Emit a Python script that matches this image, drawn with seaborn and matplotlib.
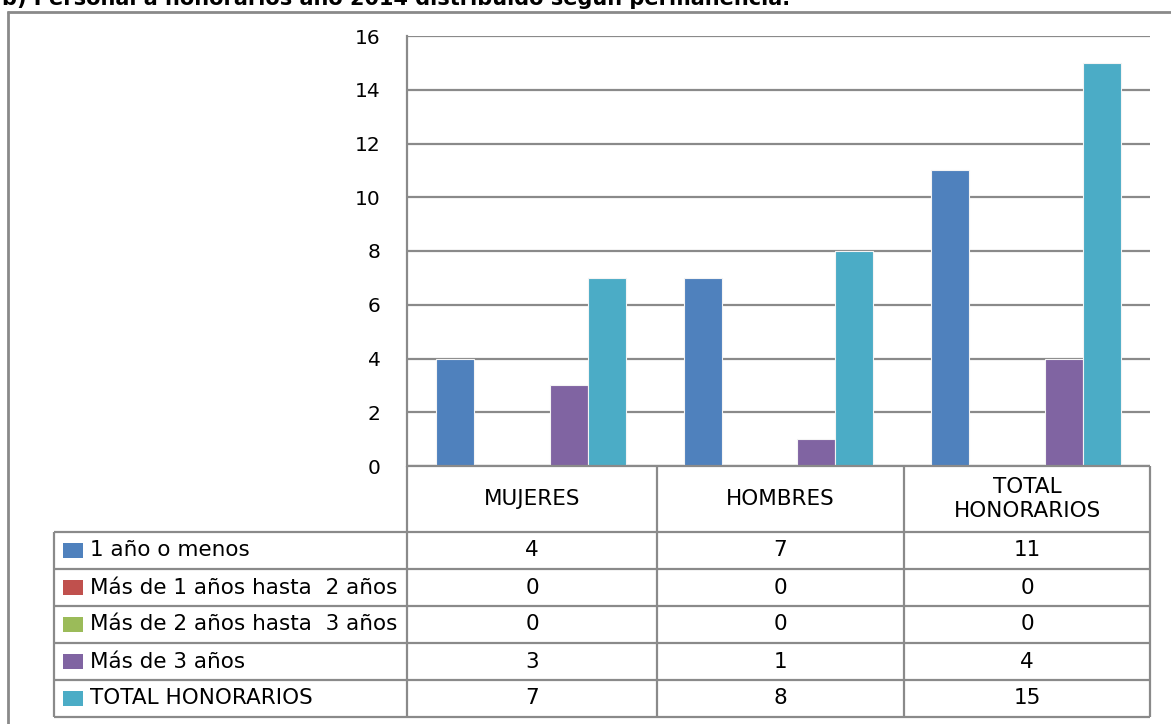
import pandas as pd
import numpy as np
import matplotlib.pyplot as plt
import seaborn as sns
from matplotlib.lines import Line2D
from matplotlib.patches import Rectangle

# data
categories = ["MUJERES", "HOMBRES", "TOTAL\nHONORARIOS"]
series = ["1 año o menos", "Más de 1 años hasta  2 años", "Más de 2 años hasta  3 años",
          "Más de 3 años", "TOTAL HONORARIOS"]
uno_o_menos = [4, 7, 11]
de_1_a_2 = [0, 0, 0]
de_2_a_3 = [0, 0, 0]
mas_de_3 = [3, 1, 4]
total_honorarios = [7, 8, 15]
y_ticks = [0, 2, 4, 6, 8, 10, 12, 14, 16]
title = "b) Personal a honorarios año 2014 distribuido según permanencia."

colors = ["#4F81BD", "#C0504D", "#9BBB59", "#8064A2", "#4BACC6"]
grey = "#8a8a8a"

values = [uno_o_menos, de_1_a_2, de_2_a_3, mas_de_3, total_honorarios]
rows = []
for s, vals in zip(series, values):
    for c, v in zip(categories, vals):
        rows.append({"categoria": c, "serie": s, "valor": v})
df = pd.DataFrame(rows)

sns.set_style("white")
plt.rcParams["font.family"] = ["DejaVu Sans"]
plt.rcParams["text.color"] = "black"
plt.rcParams["ytick.color"] = "black"
fs = 15.5

W, H = 1171, 724
fig = plt.figure(figsize=(W / 100, H / 100), dpi=100)


def fx(px):
    return px / W


def fy(py):
    return 1 - py / H


def hline(y, x0, x1, lw=1.6):
    fig.add_artist(Line2D([fx(x0), fx(x1)], [fy(y), fy(y)], color=grey, lw=lw,
                          transform=fig.transFigure, solid_capstyle="butt"))


def vline(x, y0, y1, lw=1.6):
    fig.add_artist(Line2D([fx(x), fx(x)], [fy(y0), fy(y1)], color=grey, lw=lw,
                          transform=fig.transFigure, solid_capstyle="butt"))


# plot area
ax_l, ax_r, ax_t, ax_b = 407, 1150, 36, 466
ax = fig.add_axes([fx(ax_l), fy(ax_b), fx(ax_r - ax_l), (ax_b - ax_t) / H])
sns.barplot(data=df, x="categoria", y="valor", hue="serie", order=categories,
            hue_order=series, palette=colors, saturation=1, width=0.766, ax=ax,
            edgecolor="#f4f4f4", linewidth=0.8, legend=False)
ax.set_xlim(-0.5, 2.5)
ax.set_ylim(0, 16)
ax.set_yticks(y_ticks)
ax.set_yticklabels([str(t) for t in y_ticks], fontsize=14.5)
ax.set_xticks([])
ax.set_xlabel("")
ax.set_ylabel("")
ax.yaxis.grid(True, color=grey, lw=1.6)
ax.set_axisbelow(True)
ax.tick_params(axis="y", length=0, pad=19)
for side in ["top", "right", "bottom"]:
    ax.spines[side].set_visible(False)
ax.spines["left"].set_color(grey)
ax.spines["left"].set_linewidth(1.6)

# outer chart border (runs off the picture to the right and bottom)
hline(12, 7, W + 5, lw=2)
vline(7.5, 11, H + 5, lw=2)

# title, mostly cut off at the top
fig.text(fx(2), fy(5), title, fontsize=15, fontweight="bold", ha="left", va="baseline")

# data table
col_x = [407, 657, 904, 1150]
row_y = [466, 532, 569, 606, 643, 680, 717]
leg_x = 54

hline(row_y[0], col_x[0], col_x[-1])
for y in row_y[1:]:
    hline(y, leg_x, col_x[-1])
for x in col_x:
    vline(x, row_y[0], row_y[-1])
vline(leg_x, row_y[1], row_y[-1])

for j, c in enumerate(categories):
    cx = (col_x[j] + col_x[j + 1]) / 2
    cy = (row_y[0] + row_y[1]) / 2
    fig.text(fx(cx), fy(cy), c, fontsize=fs, ha="center", va="center", linespacing=1.2)

for i, (s, vals) in enumerate(zip(series, values)):
    cy = (row_y[i + 1] + row_y[i + 2]) / 2
    fig.add_artist(Rectangle((fx(63), fy(cy + 7.5)), fx(20), 15 / H,
                             facecolor=colors[i], edgecolor="none",
                             transform=fig.transFigure))
    fig.text(fx(90), fy(cy), s, fontsize=fs, ha="left", va="center")
    for j, v in enumerate(vals):
        cx = (col_x[j] + col_x[j + 1]) / 2
        fig.text(fx(cx), fy(cy), str(v), fontsize=fs, ha="center", va="center")

fig.savefig("out.png", dpi=100)
